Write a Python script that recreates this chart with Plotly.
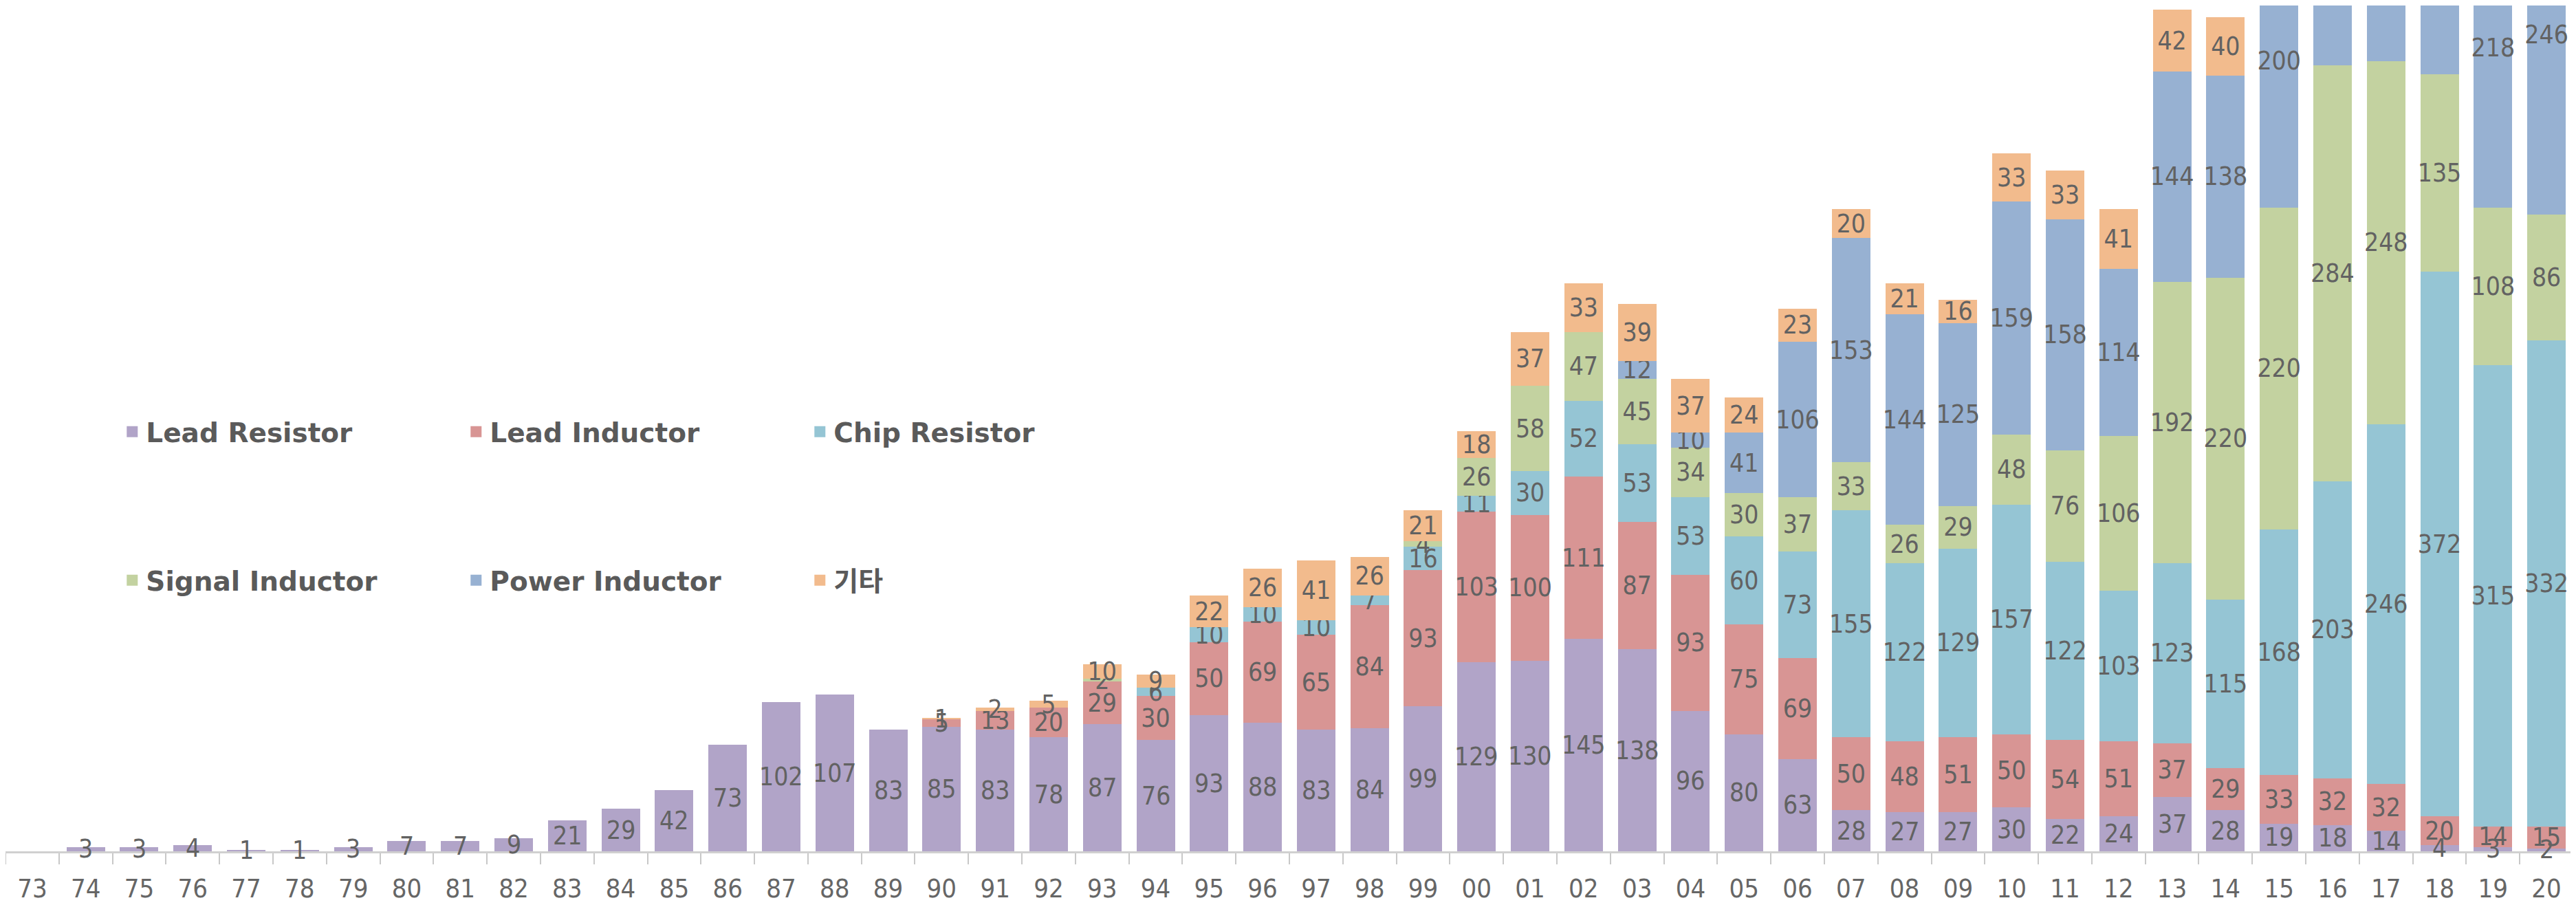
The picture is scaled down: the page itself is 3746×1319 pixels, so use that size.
import plotly.graph_objects as go

years = ["73","74","75","76","77","78","79","80","81","82","83","84","85","86","87","88","89",
         "90","91","92","93","94","95","96","97","98","99","00","01","02","03","04","05","06",
         "07","08","09","10","11","12","13","14","15","16","17","18","19","20"]

lead_resistor = [0,3,3,4,1,1,3,7,7,9,21,29,42,73,102,107,83,
                 85,83,78,87,76,93,88,83,84,99,129,130,145,138,96,80,63,
                 28,27,27,30,22,24,37,28,19,18,14,4,3,2]
lead_inductor = [0,0,0,0,0,0,0,0,0,0,0,0,0,0,0,0,0,
                 5,13,20,29,30,50,69,65,84,93,103,100,111,87,93,75,69,
                 50,48,51,50,54,51,37,29,33,32,32,20,14,15]
chip_resistor = [0,0,0,0,0,0,0,0,0,0,0,0,0,0,0,0,0,
                 0,0,0,0,6,10,10,10,7,16,11,30,52,53,53,60,73,
                 155,122,129,157,122,103,123,115,168,203,246,372,315,332]
signal_inductor = [0,0,0,0,0,0,0,0,0,0,0,0,0,0,0,0,0,
                   0,0,0,2,0,0,0,0,0,4,26,58,47,45,34,30,37,
                   33,26,29,48,76,106,192,220,220,284,248,135,108,86]
power_inductor = [0,0,0,0,0,0,0,0,0,0,0,0,0,0,0,0,0,
                  0,0,0,0,0,0,0,0,0,0,0,0,0,12,10,41,106,
                  153,144,125,159,158,114,144,138,200,190,200,210,218,246]
others = [0,0,0,0,0,0,0,0,0,0,0,0,0,0,0,0,0,
          1,2,5,10,9,22,26,41,26,21,18,37,33,39,37,24,23,
          20,21,16,33,33,41,42,40,40,40,40,40,40,40]

series = [
    ("Lead Resistor", lead_resistor, "#B1A4C8", "legend"),
    ("Lead Inductor", lead_inductor, "#D89594", "legend"),
    ("Chip Resistor", chip_resistor, "#95C5D4", "legend"),
    ("Signal Inductor", signal_inductor, "#C3D2A0", "legend2"),
    ("Power Inductor", power_inductor, "#97B1D2", "legend2"),
    ("기타", others, "#F2BB8D", "legend2"),
]

num_font = "Liberation Sans Narrow, DejaVu Sans Condensed, Arial Narrow, sans-serif"
label_font = dict(family=num_font, size=37, color="#626262")

fig = go.Figure()
for i, (name, vals, color, lg) in enumerate(series):
    fig.add_trace(go.Bar(
        name=name,
        x=years,
        y=[v if v else None for v in vals],
        # bottom series labels are drawn as unclipped annotations below
        text=[("" if i == 0 else str(v)) if v else "" for v in vals],
        textposition="inside",
        insidetextanchor="middle",
        textangle=0,
        constraintext="none",
        textfont=label_font,
        marker=dict(color=color, line=dict(width=0)),
        showlegend=False,
        cliponaxis=True,
    ))

# Lead Resistor labels centred in their segments (category index positions),
# allowed to spill below the axis line as in the original
for idx, v in enumerate(lead_resistor):
    if v:
        fig.add_annotation(x=idx, y=v / 2, xref="x", yref="y", text=str(v),
                           showarrow=False, xanchor="center", yanchor="middle",
                           font=label_font)

# legend entries with square swatches
for name, vals, color, lg in series:
    fig.add_trace(go.Scatter(
        name=name, x=[None], y=[None], mode="markers",
        marker=dict(symbol="square", size=28, color=color),
        legend=lg, showlegend=True, hoverinfo="skip",
    ))

legend_common = dict(
    orientation="h",
    xanchor="left",
    yanchor="middle",
    entrywidth=455,
    entrywidthmode="pixels",
    itemwidth=30,
    bgcolor="rgba(0,0,0,0)",
    font=dict(family="DejaVu Sans, Noto Sans CJK KR, sans-serif", size=39,
              color="#5A5A5A", weight="bold"),
    traceorder="normal",
)

fig.update_layout(
    width=3746, height=1319,
    barmode="stack",
    bargap=0.28,
    plot_bgcolor="white",
    paper_bgcolor="white",
    margin=dict(l=0, r=12, t=0, b=89),
    uniformtext=dict(minsize=37, mode="show"),
    showlegend=True,
    legend=dict(x=0.044, y=1 - 620 / 1230, **legend_common),
    legend2=dict(x=0.044, y=1 - 836 / 1230, **legend_common),
    xaxis=dict(
        type="category",
        categoryorder="array", categoryarray=years,
        range=[-0.5, len(years) - 0.5],
        showline=True, linecolor="#D0D0D0", linewidth=3,
        ticks="outside", ticklen=16, tickcolor="#C8C8C8", tickwidth=2,
        tickson="boundaries",
        ticklabelstandoff=18,
        tickfont=dict(family=num_font, size=38, color="#666666"),
        showgrid=False,
        zeroline=False,
    ),
    yaxis=dict(
        range=[0, 578],
        visible=False,
        showgrid=False,
        zeroline=False,
    ),
)

fig.write_html("out.html")
